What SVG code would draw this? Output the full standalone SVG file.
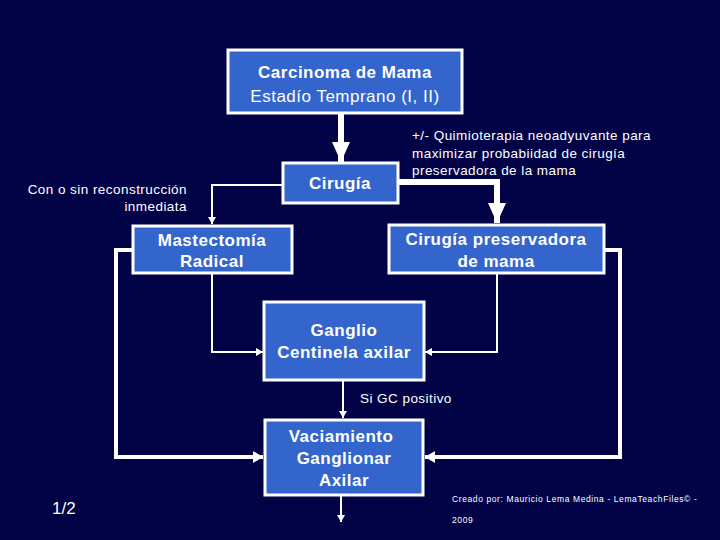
<svg xmlns="http://www.w3.org/2000/svg" width="720" height="540" viewBox="0 0 720 540">
<defs>
<style>
.box{fill:#3465CC;stroke:#ffffff;stroke-width:3}
.t{font-family:"Liberation Sans",Arial,sans-serif;fill:#ffffff;text-anchor:middle;letter-spacing:0.5px}
.b{font-weight:bold;font-size:17px}
.n{font-size:17px}
.s{font-family:"Liberation Sans",Arial,sans-serif;fill:#ffffff;font-size:13.5px;letter-spacing:0.45px}
.thick{stroke:#ffffff;stroke-width:6;fill:none}
.mid{stroke:#ffffff;stroke-width:4;fill:none}
.thin{stroke:#ffffff;stroke-width:2;fill:none}
</style>
<marker id="big" markerUnits="userSpaceOnUse" markerWidth="20" markerHeight="18" refX="20" refY="9" orient="auto" viewBox="0 0 20 18">
<path d="M0,0 L20,9 L0,18 z" fill="#ffffff"/>
</marker>
<marker id="med" markerUnits="userSpaceOnUse" markerWidth="10" markerHeight="12" refX="10" refY="6" orient="auto" viewBox="0 0 10 12">
<path d="M0,0 L10,6 L0,12 z" fill="#ffffff"/>
</marker>
<marker id="small" markerUnits="userSpaceOnUse" markerWidth="7" markerHeight="8" refX="7" refY="4" orient="auto" viewBox="0 0 7 8">
<path d="M0,0 L7,4 L0,8 z" fill="#ffffff"/>
</marker>
</defs>
<rect x="0" y="0" width="720" height="540" fill="#020246"/>

<g id="connectors">
<path class="thick" d="M341,114 V162" marker-end="url(#big)"/>
<path class="thick" d="M399,182 H497 V223" marker-end="url(#big)"/>
<path class="thin" d="M282,185 H212 V224" marker-end="url(#small)"/>
<path class="thin" d="M212,273 V352 H263" marker-end="url(#small)"/>
<path class="thin" d="M497,273 V352 H425" marker-end="url(#small)"/>
<path class="mid" d="M133,250 H116 V457 H263" marker-end="url(#med)"/>
<path class="mid" d="M604,250 H620 V457 H425" marker-end="url(#med)"/>
<path class="thin" d="M343,381 V418" marker-end="url(#small)"/>
<path class="thin" d="M341,496 V522" marker-end="url(#small)"/>
</g>

<g id="carcinoma">
<rect class="box" x="228" y="50" width="234" height="63"/>
<text class="t b" x="345" y="78">Carcinoma de Mama</text>
<text class="t n" x="345" y="102">Estadío Temprano (I, II)</text>
</g>

<g id="cirugia">
<rect class="box" x="283" y="163" width="115" height="40"/>
<text class="t b" x="340" y="189">Cirugía</text>
</g>

<g id="mastectomia">
<rect class="box" x="133" y="226" width="159" height="47"/>
<text class="t b" x="212" y="246">Mastectomía</text>
<text class="t b" x="212" y="267">Radical</text>
</g>

<g id="preservadora">
<rect class="box" x="389" y="225" width="215" height="48"/>
<text class="t b" x="496" y="245">Cirugía preservadora</text>
<text class="t b" x="496" y="267">de mama</text>
</g>

<g id="ganglio">
<rect class="box" x="264" y="302" width="160" height="78"/>
<text class="t b" x="344" y="336">Ganglio</text>
<text class="t b" x="344" y="358">Centinela axilar</text>
</g>

<g id="vaciamiento">
<rect class="box" x="265" y="420" width="158" height="75"/>
<text class="t b" x="341" y="442">Vaciamiento</text>
<text class="t b" x="344" y="464">Ganglionar</text>
<text class="t b" x="344" y="486">Axilar</text>
</g>

<g id="labels">
<text class="s" x="412" y="140">+/- Quimioterapia neoadyuvante para</text>
<text class="s" x="412" y="158">maximizar probabiidad  de cirugía</text>
<text class="s" x="412" y="175">preservadora de la mama</text>
<text class="s" x="187" y="194" text-anchor="end">Con o sin reconstrucción</text>
<text class="s" x="187" y="211" text-anchor="end">inmediata</text>
<text class="s" x="360" y="403">Si GC positivo</text>
<text class="s" x="52" y="514" style="font-size:17px;letter-spacing:0">1/2</text>
<text class="s" x="452" y="502" style="font-size:8.5px;letter-spacing:0.6px">Creado por: Mauricio Lema Medina - LemaTeachFiles© -</text>
<text class="s" x="452" y="523" style="font-size:8.5px;letter-spacing:0.6px">2009</text>
</g>
</svg>
